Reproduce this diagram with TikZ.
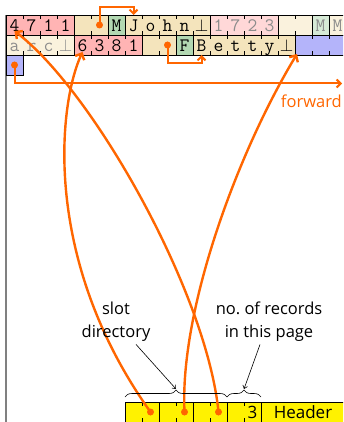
\documentclass[tikz,border=0pt]{standalone}
\usepackage{fontspec}
\newfontfamily\osans{Open Sans}
\usetikzlibrary{arrows.meta,decorations.pathreplacing}
\definecolor{recred}{RGB}{255,180,180}
\definecolor{recredl}{RGB}{255,216,216}
\definecolor{tanc}{RGB}{244,228,188}
\definecolor{cream}{RGB}{250,242,221}
\definecolor{mgreen}{RGB}{178,216,178}
\definecolor{mgreenl}{RGB}{214,234,214}
\definecolor{fblue}{RGB}{180,180,250}
\definecolor{ptr}{RGB}{255,102,0}
\definecolor{grtext}{RGB}{140,140,140}
\tikzset{
  cellt/.style={minimum width=17pt,minimum height=20pt,inner sep=0pt,outer sep=0pt,
    text height=13pt,text depth=0pt,font=\fontsize{19}{19}\selectfont\ttfamily},
  fld/.style={draw=black,line width=0.6pt},
  tickmark/.style={draw=black,line width=0.6pt},
  ptrdot/.style={circle,fill=ptr,inner sep=0pt,minimum size=7pt},
  smallarrow/.style={draw=ptr,line width=2pt,-{Straight Barb[length=4pt,width=8pt]}},
  bigarrow/.style={draw=ptr,line width=2.4pt,-{Straight Barb[length=5pt,width=10pt]}},
  thinarrow/.style={draw=black,line width=0.6pt,-{Straight Barb[length=3pt,width=5pt]}},
  lbl/.style={font=\osans\fontsize{16.5}{22.5}\selectfont,align=center,inner sep=0pt},
  sanst/.style={font=\osans\fontsize{17}{17}\selectfont,inner sep=0pt},
  bracestyle/.style={draw=black,line width=0.6pt,decorate,decoration={brace,amplitude=7pt}}
}
\begin{document}
\begin{tikzpicture}[x=1pt,y=-1pt]
\useasboundingbox (0,0) rectangle (343,422);
\clip (0,0) rectangle (343,422);
% page edge
\draw[gray,line width=1.2pt] (6,15) -- (6,430);
% fields
\foreach \fy/\fs/\fn/\fc in {15/0/4/recred,15/4/2/tanc,15/6/1/mgreen,15/7/5/tanc,15/12/4/recredl,
   15/16/2/cream,15/18/1/mgreenl,15/19/2/cream,
   35/0/4/cream,35/4/4/recred,35/8/2/tanc,35/10/1/mgreen,35/11/6/tanc,35/17/4/fblue,
   55/0/1/fblue,
   402/7/2/yellow,402/9/2/yellow,402/11/2/yellow,402/13/2/yellow}{
  \path[fld,fill=\fc] ({6+17*\fs},\fy) rectangle ++({17*\fn},20);
  \foreach \k in {1,...,\fn}{\ifnum\k<\fn\relax
    \draw[tickmark] ({6+17*(\fs+\k)},\fy) -- ++(0,4) ({6+17*(\fs+\k)},{\fy+20}) -- ++(0,-4);
  \fi}
}
\path[fld,fill=yellow] (261,402) rectangle (350,424);
% row 1 texts
\foreach \i/\ch in {0/4,1/7,2/1,3/1,6/M,7/J,8/o,9/h,10/n,11/$\perp$}
  \node[cellt] (a\i) at ({14.5+17*\i},25) {\ch};
\foreach \i/\ch in {12/1,13/7,14/2,15/3,18/M,19/M}
  \node[cellt,text=grtext] (a\i) at ({14.5+17*\i},25) {\ch};
% row 2 texts
\foreach \i/\ch in {0/a,1/r,2/c,3/$\perp$}
  \node[cellt,text=grtext] (b\i) at ({14.5+17*\i},45) {\ch};
\foreach \i/\ch in {4/6,5/3,6/8,7/1,10/F,11/B,12/e,13/t,14/t,15/y,16/$\perp$}
  \node[cellt] (b\i) at ({14.5+17*\i},45) {\ch};
\node[cellt] (b17) at ({14.5+17*17},45) {};
% header texts
\node[sanst,anchor=base] (cnt) at (252.5,418.5) {3};
\node[sanst,anchor=base] (hdr) at (303,418.5) {Header};
% pointer dots
\node[ptrdot] (d1) at (99.5,25) {};
\node[ptrdot] (d2) at (167.5,45) {};
\node[ptrdot] (d3) at (14.5,65) {};
\node[ptrdot] (s1) at (150.5,412) {};
\node[ptrdot] (s2) at (184.5,412) {};
\node[ptrdot] (s3) at (218.5,412) {};
% small pointers
\coordinate (k1) at (115,7);
\coordinate (k2) at (185,63);
\coordinate (fwend) at (342,83.5);
\draw[smallarrow] (d1.center) |- (k1) -| (a7.north);
\draw[smallarrow] (d2.center) |- (k2) -| (b11.south);
\draw[smallarrow] (d3.center) |- (fwend);
\node[font=\osans\fontsize{16.5}{16.5}\selectfont,text=ptr,inner sep=0pt,anchor=base east] (fwd) at (342,107.5) {forward};
% slot pointers
\draw[bigarrow] (s3.center) .. controls (206.5,292) and (93,91) .. ([yshift=-6pt]a0.center);
\draw[bigarrow] (s1.center) .. controls (42,260) and (58,105) .. ([yshift=-7pt]b4.center);
\draw[bigarrow] (s2.center) .. controls (179.5,312) and (236,155) .. ([xshift=2pt,yshift=1pt]b17.south west);
% braces and labels
\draw[bracestyle] (125,397) -- (227,397);
\draw[bracestyle] (227,397) -- (261,397);
\coordinate (t1) at (176,389);
\coordinate (t2) at (244,389);
\node[lbl,anchor=north] (slot) at (116,302) {slot\\directory};
\node[lbl,anchor=north] (nrec) at (269,302) {no.\ of records\\in this page};
\draw[thinarrow] ([xshift=20pt,yshift=-3pt]slot.south) -- (t1);
\draw[thinarrow] ([xshift=-9pt,yshift=-3pt]nrec.south) -- (t2);
\end{tikzpicture}
\end{document}
